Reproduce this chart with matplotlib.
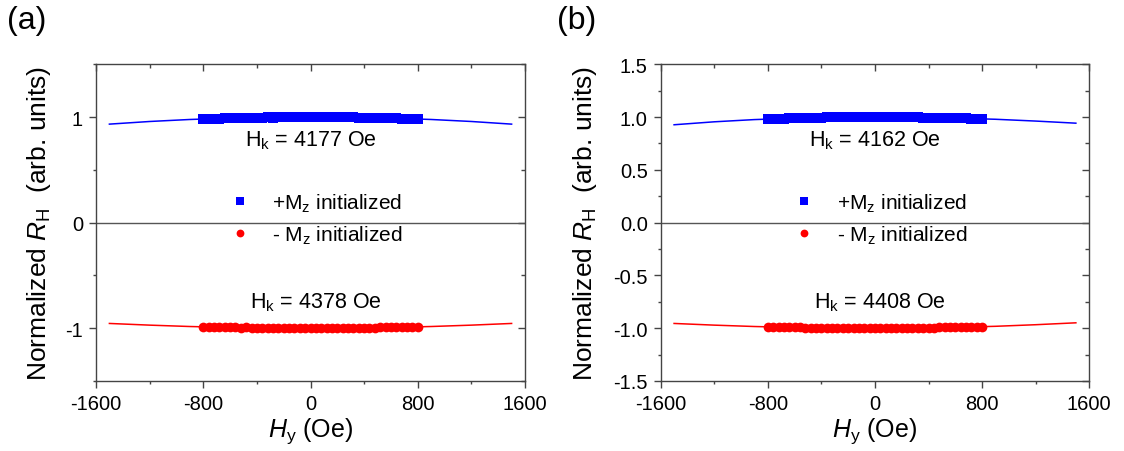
import matplotlib
matplotlib.use('Agg')
import matplotlib.pyplot as plt
from matplotlib.ticker import MultipleLocator

plt.rcParams['font.family'] = 'Liberation Sans'
plt.rcParams['mathtext.fontset'] = 'custom'
plt.rcParams['mathtext.rm'] = 'Liberation Sans'
plt.rcParams['mathtext.it'] = 'Liberation Sans:italic'
plt.rcParams['axes.unicode_minus'] = False

# measured points (field sweep, Oe)
h_meas = [-800, -760, -720, -680, -640, -600, -560, -520, -480, -440, -400,
          -360, -320, -280, -240, -200, -160, -120, -80, -40, 0,
          40, 80, 120, 160, 200, 240, 280, 320, 360, 400,
          440, 480, 520, 560, 600, 640, 680, 720, 760, 800]

# panel (a)
a_up = [0.982, 0.983, 0.985, 0.984, 0.987, 0.989, 0.990, 0.991, 0.993, 0.992, 0.994,
        0.995, 0.996, 0.995, 0.998, 1.001, 1.002, 1.003, 1.002, 1.004, 1.003,
        1.004, 1.002, 1.003, 1.001, 0.999, 0.998, 0.997, 0.996, 0.995, 0.994,
        0.993, 0.992, 0.990, 0.990, 0.988, 0.987, 0.985, 0.984, 0.983, 0.982]
a_dn = [-0.985, -0.986, -0.988, -0.987, -0.990, -0.991, -0.992, -0.994, -0.993, -0.995, -0.996,
        -0.997, -0.996, -0.998, -0.999, -1.000, -0.999, -1.001, -1.000, -1.001, -1.000,
        -1.001, -0.999, -1.000, -1.001, -0.999, -0.998, -0.999, -0.997, -0.996, -0.996,
        -0.995, -0.994, -0.993, -0.992, -0.991, -0.990, -0.989, -0.987, -0.986, -0.985]
# panel (b)
b_up = [0.980, 0.982, 0.984, 0.985, 0.987, 0.988, 0.990, 0.991, 0.992, 0.993, 0.994,
        0.996, 0.997, 0.996, 0.998, 1.000, 1.002, 1.003, 1.002, 1.003, 1.002,
        1.003, 1.002, 1.002, 1.001, 0.999, 0.998, 0.998, 0.996, 0.995, 0.994,
        0.993, 0.992, 0.991, 0.990, 0.989, 0.988, 0.987, 0.986, 0.985, 0.984]
b_dn = [-0.986, -0.987, -0.988, -0.989, -0.990, -0.992, -0.993, -0.994, -0.995, -0.995, -0.996,
        -0.997, -0.998, -0.998, -0.999, -1.000, -1.000, -1.001, -1.000, -1.001, -1.000,
        -1.001, -1.000, -0.999, -1.000, -0.999, -0.998, -0.998, -0.997, -0.996, -0.995,
        -0.994, -0.993, -0.992, -0.991, -0.990, -0.989, -0.988, -0.987, -0.986, -0.985]

# fitted curves
h_fit = [-1500, -1200, -900, -600, -300, 0, 300, 600, 900, 1200, 1500]
a_up_fit = [0.933, 0.958, 0.977, 0.990, 0.997, 1.000, 0.997, 0.990, 0.977, 0.958, 0.933]
a_dn_fit = [-0.955, -0.971, -0.984, -0.993, -0.998, -1.000, -0.998, -0.993, -0.984, -0.971, -0.955]
b_up_fit = [0.927, 0.955, 0.976, 0.989, 0.997, 1.000, 0.997, 0.990, 0.979, 0.962, 0.942]
b_dn_fit = [-0.955, -0.971, -0.984, -0.993, -0.998, -1.000, -0.998, -0.992, -0.982, -0.967, -0.949]

hk_labels = {'a': ('4177', '4378'), 'b': ('4162', '4408')}

BLUE = '#0000ff'
RED = '#ff0000'
AXC = '#444444'


def draw_panel(ax, up, dn, up_fit, dn_fit, hk, y_major, y_minor, fmt, ylab_pad):
    ax.axhline(0, color='#555555', lw=1.0, zorder=1)
    p_up, = ax.plot(h_meas, up, 's', color=BLUE, ms=6.5, mew=0, zorder=3,
                    label='+M$_\\mathrm{z}$ initialized')
    p_dn, = ax.plot(h_meas, dn, 'o', color=RED, ms=7.0, mew=0, zorder=3,
                    label='- M$_\\mathrm{z}$ initialized')
    ax.plot(h_fit, up_fit, '-', color=BLUE, lw=1.1, zorder=2)
    ax.plot(h_fit, dn_fit, '-', color=RED, lw=1.1, zorder=2)

    ax.set_xlim(-1600, 1600)
    ax.set_ylim(-1.5, 1.5)
    ax.xaxis.set_major_locator(MultipleLocator(800))
    ax.xaxis.set_minor_locator(MultipleLocator(400))
    ax.yaxis.set_major_locator(MultipleLocator(y_major))
    ax.yaxis.set_minor_locator(MultipleLocator(y_minor))
    ax.yaxis.set_major_formatter(fmt)
    ax.tick_params(which='major', direction='out', length=5.3, width=1,
                   color=AXC, labelsize=14.5, pad=4)
    ax.tick_params(which='minor', direction='out', length=2.5, width=1, color=AXC)

    # mirrored ticks on top / right, pointing in
    top = ax.secondary_xaxis('top')
    top.xaxis.set_major_locator(MultipleLocator(800))
    top.xaxis.set_minor_locator(MultipleLocator(400))
    top.tick_params(which='major', direction='in', length=5, width=1, color=AXC, labeltop=False)
    top.tick_params(which='minor', direction='in', length=3, width=1, color=AXC)
    right = ax.secondary_yaxis('right')
    right.yaxis.set_major_locator(MultipleLocator(y_major))
    right.yaxis.set_minor_locator(MultipleLocator(y_minor))
    right.tick_params(which='major', direction='in', length=5, width=1, color=AXC, labelright=False)
    right.tick_params(which='minor', direction='in', length=3, width=1, color=AXC)
    for sec in (top, right):
        for s in sec.spines.values():
            s.set_visible(False)

    for s in ax.spines.values():
        s.set_color(AXC)
        s.set_linewidth(1.0)

    ax.set_xlabel('$\\mathit{H}_\\mathrm{y}$ (Oe)', fontsize=18, labelpad=1.5)
    ax.set_ylabel('Normalized $\\mathit{R}_\\mathrm{H}$  (arb. units)', fontsize=19,
                  labelpad=ylab_pad)

    ax.text(0, 0.79, 'H$_\\mathrm{k}$ = %s Oe' % hk[0], ha='center', va='center', fontsize=15.5)
    ax.text(40, -0.75, 'H$_\\mathrm{k}$ = %s Oe' % hk[1], ha='center', va='center', fontsize=15.5)

    ax.legend(handles=[p_up, p_dn], loc='center left', bbox_to_anchor=(0.277, 0.5125),
              frameon=False, fontsize=15, handletextpad=0.75, labelspacing=0.45,
              handlelength=1.6, borderaxespad=0, markerscale=0.8)


fig = plt.figure(figsize=(11.24, 4.52), dpi=100)
ax_a = fig.add_axes([0.0854, 0.1549, 0.3817, 0.7007])
ax_b = fig.add_axes([0.5878, 0.1549, 0.3813, 0.7007])

draw_panel(ax_a, a_up, a_dn, a_up_fit, a_dn_fit, hk_labels['a'], 1.0, 0.5, '{x:.0f}', 9)
draw_panel(ax_b, b_up, b_dn, b_up_fit, b_dn_fit, hk_labels['b'], 0.5, 0.25, '{x:.1f}', 10)

fig.text(0.006, 0.953, '(a)', fontsize=23, va='center', ha='left')
fig.text(0.4956, 0.953, '(b)', fontsize=23, va='center', ha='left')

fig.savefig('out.png', dpi=100)
